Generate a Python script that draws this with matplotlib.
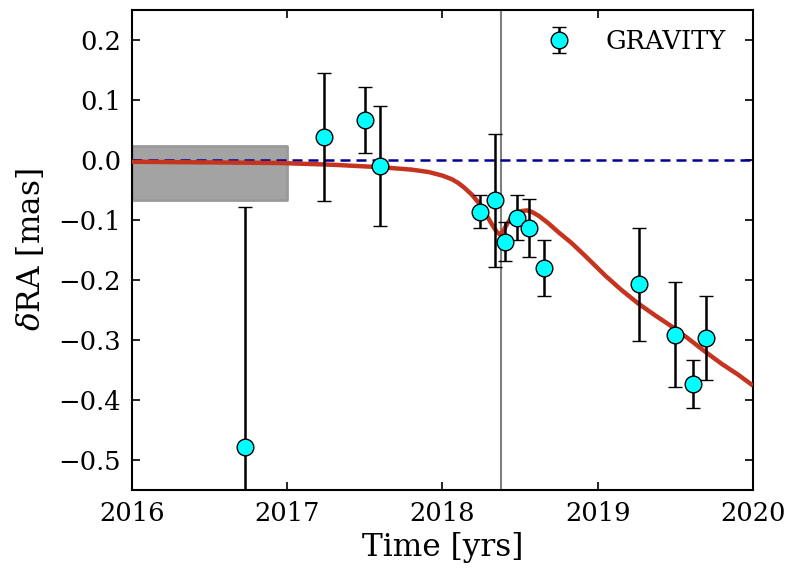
import matplotlib
matplotlib.use("Agg")
import matplotlib.pyplot as plt
import numpy as np

# GRAVITY astrometry residuals
t_obs = [2016.73, 2017.24, 2017.50, 2017.60, 2018.24, 2018.336, 2018.406,
         2018.477, 2018.56, 2018.652, 2019.267, 2019.498, 2019.614, 2019.695]
dra_obs = [-0.479, 0.038, 0.067, -0.010, -0.086, -0.067, -0.136,
           -0.096, -0.113, -0.180, -0.207, -0.291, -0.373, -0.296]
dra_err = [0.40, 0.107, 0.055, 0.100, 0.027, 0.111, 0.033,
           0.037, 0.048, 0.047, 0.094, 0.088, 0.040, 0.070]

# model curve
t_model = [2016.0, 2016.5, 2016.95, 2017.3, 2017.6, 2017.8, 2017.91, 2018.0,
           2018.06, 2018.10, 2018.14, 2018.19, 2018.235, 2018.28, 2018.32,
           2018.35, 2018.37, 2018.39, 2018.42, 2018.45, 2018.48, 2018.51,
           2018.545, 2018.58, 2018.62, 2018.68, 2018.75, 2018.83, 2018.92,
           2019.05, 2019.15, 2019.26, 2019.37, 2019.48, 2019.58, 2019.69,
           2019.80, 2019.90, 2020.0]
dra_model = [-0.003, -0.004, -0.005, -0.008, -0.012, -0.016, -0.020, -0.026,
             -0.032, -0.038, -0.046, -0.058, -0.072, -0.090, -0.108,
             -0.120, -0.124, -0.119, -0.105, -0.094, -0.088, -0.085,
             -0.084, -0.087, -0.093, -0.105, -0.121, -0.138, -0.160,
             -0.193, -0.216, -0.239, -0.259, -0.278, -0.297, -0.319,
             -0.340, -0.357, -0.376]

# earlier constraint box and pericentre epoch
box_t = [2016.0, 2017.0]
box_dra = [-0.067, 0.024]
t_peri = 2018.374

plt.rcParams["font.family"] = "DejaVu Serif"
plt.rcParams["mathtext.fontset"] = "dejavuserif"

fig = plt.figure(figsize=(7.88, 5.72), dpi=100)
ax = fig.add_axes([0.1675, 0.1434, 0.788, 0.8391])

ax.fill_between(box_t, box_dra[0], box_dra[1], facecolor="#a3a3a3",
                edgecolor="#999999", linewidth=2, zorder=1)
ax.axhline(0.0, color="#000099", linestyle="--", linewidth=1.8,
           dashes=(4, 2.4), zorder=3)
ax.axvline(t_peri, color="grey", linewidth=1.5, zorder=2)
ax.plot(t_model, dra_model, color="#c5341f", linewidth=3.2, zorder=4,
        solid_capstyle="butt")

ax.errorbar(t_obs, dra_obs, yerr=dra_err, fmt="o", color="black",
            markerfacecolor="cyan", markeredgecolor="black", markeredgewidth=1.0,
            markersize=12, elinewidth=1.8, capsize=5, capthick=1.5,
            label="GRAVITY", zorder=5)

ax.set_xlim(2016, 2020)
ax.set_ylim(-0.55, 0.25)
ax.set_xticks([2016, 2017, 2018, 2019, 2020])
ax.set_yticks(np.arange(-0.5, 0.25, 0.1))
ax.tick_params(direction="in", top=True, right=True, length=6, width=1.2,
               labelsize=18.5, pad=8)
for s in ax.spines.values():
    s.set_linewidth(1.5)

ax.set_xlabel("Time [yrs]", fontsize=22.5, labelpad=4)
ax.set_ylabel(r"$\delta$RA [mas]", fontsize=22.5, labelpad=8)
ax.legend(loc="upper right", bbox_to_anchor=(0.987, 1.0), frameon=False,
          fontsize=18.5, handletextpad=0.8, borderaxespad=0.35)

fig.savefig("out.png", dpi=100)
